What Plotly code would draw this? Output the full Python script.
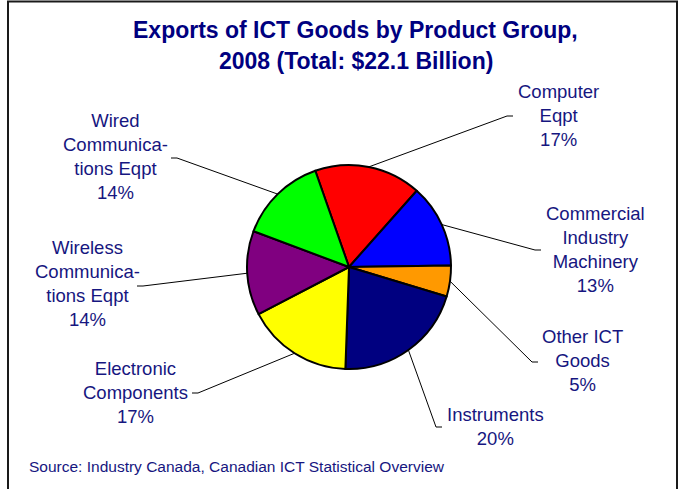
import math
import plotly.graph_objects as go

# ---- data ----
categories = ["Computer Eqpt", "Commercial Industry Machinery", "Other ICT Goods",
              "Instruments", "Electronic Components",
              "Wireless Communications Eqpt", "Wired Communications Eqpt"]
label_lines = ["Computer<br>Eqpt", "Commercial<br>Industry<br>Machinery", "Other ICT<br>Goods",
               "Instruments", "Electronic<br>Components",
               "Wireless<br>Communica-<br>tions Eqpt", "Wired<br>Communica-<br>tions Eqpt"]
values_bn = [3.74, 2.92, 1.08, 4.62, 3.71, 2.95, 3.08]   # $ billion (total 22.1)
pct_labels = ["17%", "13%", "5%", "20%", "17%", "14%", "14%"]
colors = ["#FF0000", "#0000FF", "#FF9900", "#000080", "#FFFF00", "#800080", "#00FF00"]

# ---- layout constants (pixels) ----
W, H = 681, 489
CX, CY, R = 349, 267, 102
ROT = -19.3
label_pos = [(558, 115), (595, 249.5), (582, 360), (495, 426.5), (135, 392.5), (87, 283.5), (115, 156.5)]
elbows = [(507, 116), (535, 250), (532, 362), (436, 427), (198, 393), (143, 286), (177, 158)]
TXT = "#161680"
FONT = "Liberation Sans, Arial, sans-serif"

def px(x):
    return x / W

def py(y):
    return 1 - y / H

fig = go.Figure(go.Pie(
    labels=categories, values=values_bn, sort=False, direction="clockwise",
    rotation=ROT, marker=dict(colors=colors, line=dict(color="black", width=2)),
    textinfo="none", hoverinfo="label+percent", showlegend=False,
    domain=dict(x=[px(CX - R), px(CX + R)], y=[py(CY + R), py(CY - R)]),
))

shapes = []
annotations = []
total = sum(values_bn)
cum = 0.0
for i, v in enumerate(values_bn):
    mid = math.radians(ROT + 360 * (cum + v / 2) / total)
    cum += v
    ex, ey = CX + R * math.sin(mid), CY - R * math.cos(mid)
    bx, by = elbows[i]
    shapes.append(dict(type="line", xref="paper", yref="paper",
                       x0=px(ex), y0=py(ey), x1=px(bx), y1=py(by),
                       line=dict(color="black", width=1)))
    dx = 6 if bx > CX else -6
    shapes.append(dict(type="line", xref="paper", yref="paper",
                       x0=px(bx), y0=py(by), x1=px(bx + dx), y1=py(by),
                       line=dict(color="black", width=1)))
    lx, ly = label_pos[i]
    annotations.append(dict(x=px(lx), y=py(ly), xref="paper", yref="paper",
                            text=label_lines[i] + "<br>" + pct_labels[i], showarrow=False,
                            xanchor="center", yanchor="middle", align="center",
                            font=dict(family=FONT, size=18.5, color=TXT)))

# frame
shapes.append(dict(type="rect", xref="paper", yref="paper",
                   x0=px(8), x1=px(677), y0=py(520), y1=py(1.5),
                   line=dict(color="#1a1a1a", width=2)))

annotations.append(dict(x=px(356), y=py(30), xref="paper", yref="paper",
                        text="<b>Exports of ICT Goods by Product Group,</b>", showarrow=False,
                        xanchor="center", yanchor="middle",
                        font=dict(family=FONT, size=23, color="#000080")))
annotations.append(dict(x=px(356), y=py(61.5), xref="paper", yref="paper",
                        text="<b>2008 (Total: $22.1 Billion)</b>", showarrow=False,
                        xanchor="center", yanchor="middle",
                        font=dict(family=FONT, size=23, color="#000080")))
annotations.append(dict(x=px(27), y=py(466), xref="paper", yref="paper",
                        text="Source: Industry Canada, Canadian ICT Statistical Overview",
                        showarrow=False, xanchor="left", yanchor="middle",
                        font=dict(family=FONT, size=15.5, color=TXT)))

fig.update_layout(width=W, height=H, margin=dict(l=0, r=0, t=0, b=0),
                  paper_bgcolor="white", plot_bgcolor="white",
                  shapes=shapes, annotations=annotations)

fig.write_html("out.html", config={"displayModeBar": False},
               post_script="document.body.style.margin='0';document.body.style.overflow='hidden';")
